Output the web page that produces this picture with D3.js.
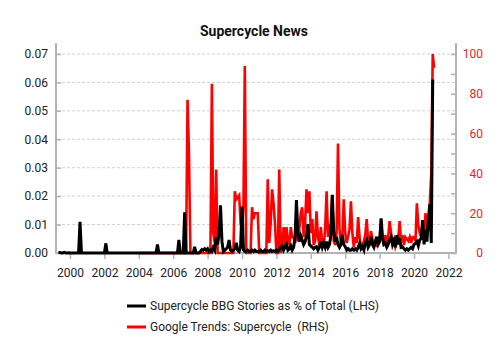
<!DOCTYPE html>
<html><head><meta charset="utf-8">
<script src="https://cdn.jsdelivr.net/npm/d3@7"></script>
<style>
html,body{margin:0;padding:0;background:#fff;}
svg{display:block;font-family:Roboto,"Noto Sans",sans-serif;}
</style></head><body>
<svg id="chart" width="501" height="357"></svg>
<script>
const chartTitle = "Supercycle News";
// Monthly series, BBG stories (% of total), starting May 1999
const bbgStart = "1999-05";
const bbgValues = [
  0.0002,0.0002,0,0,0.0002,0,0,0.0001,
  0,0,0,0,0,0,0,0.011,0,0,0,0,
  0,0,0,0,0,0,0,0,0,0,0,0,
  0,0.0034,0,0,0,0,0,0,0,0,0,0,
  0,0,0,0,0,0,0,0,0,0,0,0,
  0,0,0,0,0,0,0,0,0,0,0,0,
  0,0.003,0,0,0,0,0,0,0,0,0,0,
  0,0,0,0,0.0046,0,0,0,0.0143,0,0,0,
  0,0,0,0.0022,0,0,0,0.0005,0.0012,0.001,0.0015,0.001,
  0.0015,0.0005,0.001,0.0005,0.002,0.001,0.0055,0.003,0.007,0.0168,0.004,0.0005,
  0.001,0.0015,0.002,0.0046,0.001,0.0005,0.001,0.0015,0.0036,0.001,0.0005,0.002,
  0.0163,0.001,0.0005,0.0005,0.001,0.0005,0.0005,0.001,0.0005,0.001,0.0005,0.0005,
  0.0005,0.001,0.0005,0.0005,0.001,0.0005,0.0008,0.0005,0.001,0.0005,0.0008,0.0005,
  0.001,0.0005,0.001,0.002,0.0025,0.001,0.002,0.003,0.001,0.0015,0.0025,0.001,
  0.002,0.006,0.0186,0.007,0.004,0.006,0.0046,0.003,0.004,0.006,0.0102,0.003,
  0.0025,0.002,0.0015,0.002,0.0022,0.001,0.002,0.004,0.002,0.0035,0.002,0.004,
  0.002,0.003,0.006,0.0205,0.008,0.004,0.0057,0.003,0.002,0.003,0.0063,0.003,
  0.0022,0.001,0.0015,0.001,0.001,0.0015,0.001,0.0015,0.001,0.002,0.0034,0.0015,
  0.0022,0.001,0.0034,0.0045,0.002,0.003,0.0057,0.003,0.002,0.004,0.0057,0.003,
  0.004,0.0122,0.0057,0.003,0.0034,0.002,0.003,0.0046,0.0057,0.003,0.0045,0.002,
  0.0063,0.003,0.0052,0.002,0.0022,0.0015,0.001,0.0015,0.001,0.0015,0.002,0.0015,
  0.003,0.0034,0.004,0.0025,0.0046,0.005,0.0116,0.003,0.0081,0.004,0.012,0.0172,
  0.0035,0.061
];
// Monthly Google Trends index, starting Jan 2004
const trendsStart = "2004-01";
const trendsValues = [
  0,0,0,0,0,0,0,0,0,0,0,0,
  0,0,0,0,0,0,0,0,0,0,0,0,
  0,0,0,0,0,0,0,0,0,0,77,50,
  0,0,0,0,0,0,0,0,0,0,0,0,
  0,0,0,85,10,5,42,0,0,0,0,0,
  0,0,0,0,0,0,0,31,27,28,29,15,
  12,25,94,0,0,0,0,23,17,20,20,20,
  0,0,0,0,0,0,37,5,15,32,25,15,
  0,0,42,0,4,13,3,13,6,4,13,8,
  8,5,10,6,12,20,23,8,15,32,20,31,
  10,17,4,6,21,8,4,13,5,3,12,31,
  8,12,15,29,6,4,10,55,12,5,8,27,
  10,5,8,12,26,10,3,8,5,18,8,3,
  4,6,9,17,6,4,11,7,3,6,4,5,
  6,17,7,4,9,5,8,16,10,4,7,3,
  5,7,16,6,9,4,8,7,6,8,5,8,
  8,6,25,14,10,8,16,10,20,10,12,25,
  40,100,93
];
const leftTicks = [0,0.01,0.02,0.03,0.04,0.05,0.06,0.07];
const rightTicks = [0,10,20,30,40,50,60,70,80,90,100];
const rightLabelStep = 20;
const yearTicks = [2000,2002,2004,2006,2008,2010,2012,2014,2016,2018,2020,2022];
const legendLabels = ["Supercycle BBG Stories as % of Total (LHS)", "Google Trends: Supercycle  (RHS)"];
const seriesColors = ["#000000", "#ff0000"];

const parseMonth = d3.timeParse("%Y-%m");
function toSeries(start, values) {
  const s = parseMonth(start);
  return values.map((v, i) => ({date: d3.timeMonth.offset(s, i), value: v}));
}
const bbg = toSeries(bbgStart, bbgValues);
const trends = toSeries(trendsStart, trendsValues);

const svg = d3.select("#chart");
const L = 56, R = 456, B = 253, T = 43;
const axisColor = "#b3b3b3";

const x = d3.scaleTime().domain([new Date(1999, 2, 10), new Date(2022, 5, 10)]).range([L, R]);
const yL = d3.scaleLinear().domain([0, 0.07]).range([B, 54]);
const yR = d3.scaleLinear().domain([0, 100]).range([B, 54]);

// gridlines
svg.append("g").selectAll("line").data(leftTicks.filter(d => d > 0)).join("line")
  .attr("x1", L + 1).attr("x2", R - 1)
  .attr("y1", d => yL(d)).attr("y2", d => yL(d))
  .attr("stroke", "#d2d2d2").attr("stroke-width", 1).attr("stroke-dasharray", "3,2");

// title
svg.append("text").attr("x", 254).attr("y", 36).attr("text-anchor", "middle")
  .attr("font-size", 14).attr("font-weight", "bold").attr("fill", "#111").text(chartTitle);

// left axis
const gL = svg.append("g").attr("transform", `translate(${L},0)`)
  .call(d3.axisLeft(yL).tickValues(leftTicks).tickFormat(d3.format(".2f")).tickSizeInner(-5).tickSizeOuter(0).tickPadding(8));
gL.select(".domain").remove();
gL.selectAll(".tick line").attr("stroke", axisColor).attr("stroke-width", 1.5);
gL.selectAll(".tick text").attr("font-size", 12).attr("fill", "#222").attr("font-family", "Roboto");

// right axis
const gR = svg.append("g").attr("transform", `translate(${R},0)`)
  .call(d3.axisRight(yR).tickValues(rightTicks).tickFormat(d => d % rightLabelStep === 0 ? d : "").tickSizeInner(-5).tickSizeOuter(0));
gR.select(".domain").remove();
gR.selectAll(".tick line").attr("stroke", axisColor).attr("stroke-width", 1.5);
gR.selectAll(".tick text").attr("font-size", 12).attr("fill", "#e3262e").attr("font-family", "Roboto")
  .attr("text-anchor", "end").attr("x", 27);

// bottom axis
const gB = svg.append("g").attr("transform", `translate(0,${B})`)
  .call(d3.axisBottom(x).tickValues(yearTicks.map(y => new Date(y, 0, 1))).tickFormat(d3.timeFormat("%Y")).tickSizeInner(6).tickSizeOuter(0).tickPadding(9));
gB.select(".domain").remove();
gB.selectAll(".tick line").attr("stroke", axisColor).attr("stroke-width", 1.5);
gB.selectAll(".tick text").attr("font-size", 12).attr("fill", "#222").attr("font-family", "Roboto");

// axis lines
svg.append("line").attr("x1", L).attr("x2", L).attr("y1", T).attr("y2", B + 1).attr("stroke", axisColor).attr("stroke-width", 2);
svg.append("line").attr("x1", R).attr("x2", R).attr("y1", T).attr("y2", B + 1).attr("stroke", axisColor).attr("stroke-width", 2);
svg.append("line").attr("x1", L).attr("x2", R).attr("y1", B).attr("y2", B).attr("stroke", axisColor).attr("stroke-width", 2);

// series
const lineR = d3.line().x(d => x(d.date)).y(d => yR(d.value));
const lineL = d3.line().x(d => x(d.date)).y(d => yL(d.value));
svg.append("path").datum(trends).attr("d", lineR).attr("fill", "none")
  .attr("stroke", seriesColors[1]).attr("stroke-width", 2.6);
svg.append("path").datum(bbg).attr("d", lineL).attr("fill", "none")
  .attr("stroke", seriesColors[0]).attr("stroke-width", 3);

// legend
const leg = svg.append("g");
legendLabels.forEach((lab, i) => {
  const yy = 306 + i * 21;
  leg.append("line").attr("x1", 127).attr("x2", 146).attr("y1", yy).attr("y2", yy)
    .attr("stroke", seriesColors[i]).attr("stroke-width", 3);
  leg.append("text").attr("x", 150).attr("y", yy).attr("dy", "0.35em")
    .attr("font-size", 12).attr("fill", "#222").style("white-space", "pre").text(lab);
});
</script>
</body></html>
